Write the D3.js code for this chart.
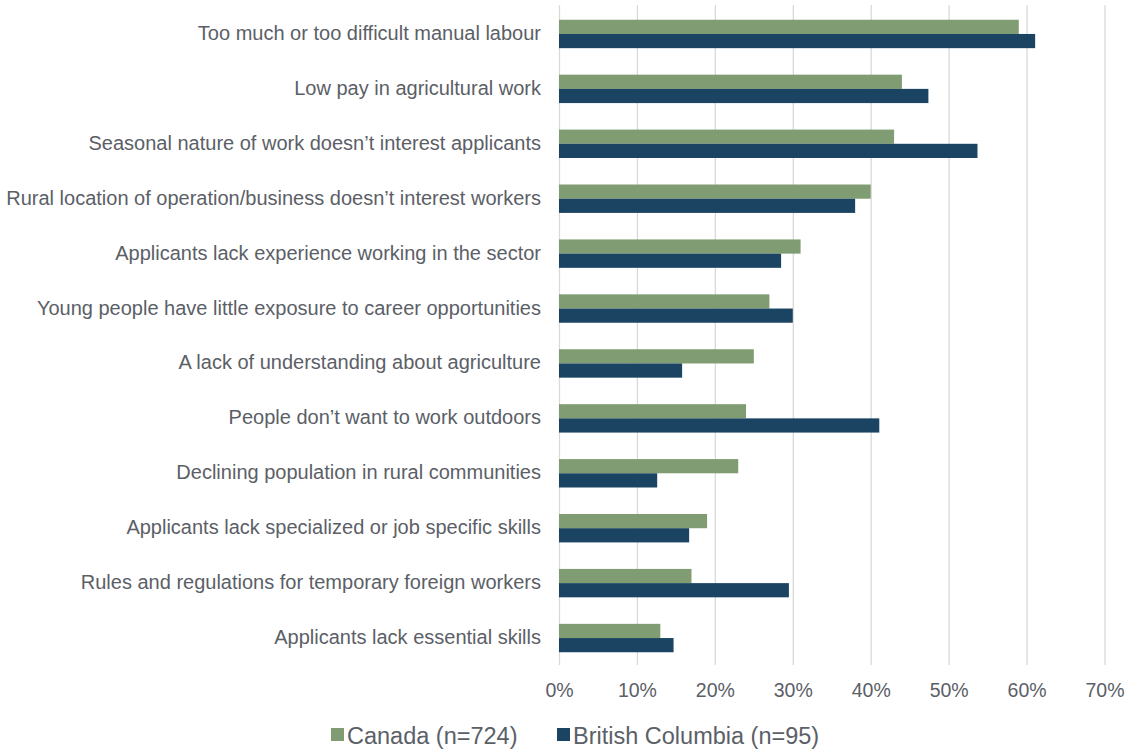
<!DOCTYPE html>
<html><head><meta charset="utf-8">
<script src="https://cdn.jsdelivr.net/npm/d3@7"></script>
<style>body{margin:0;background:#fff;} svg{display:block;} text{font-family:"Liberation Sans",Arial,sans-serif;}</style>
</head><body>
<svg id="c" width="1129" height="750"></svg>
<script>
const categories = [
  "Too much or too difficult manual labour",
  "Low pay in agricultural work",
  "Seasonal nature of work doesn\u2019t interest applicants",
  "Rural location of operation/business doesn\u2019t interest workers",
  "Applicants lack experience working in the sector",
  "Young people have little exposure to career opportunities",
  "A lack of understanding about agriculture",
  "People don\u2019t want to work outdoors",
  "Declining population in rural communities",
  "Applicants lack specialized or job specific skills",
  "Rules and regulations for temporary foreign workers",
  "Applicants lack essential skills"
];
const canada = [59, 44, 43, 40, 31, 27, 25, 24, 23, 19, 17, 13];
const bc = [61.1, 47.4, 53.7, 38, 28.5, 30, 15.8, 41.1, 12.6, 16.7, 29.5, 14.7];
const seriesNames = ["Canada (n=724)", "British Columbia (n=95)"];
const seriesColors = ["#7f9c72", "#1b4462"];
const xTicks = [0, 10, 20, 30, 40, 50, 60, 70];

const textColor = "#5b6067";
const svg = d3.select("#c");
const x = d3.scaleLinear().domain([0, 70]).range([559, 1104.5]);
const y = d3.scaleBand().domain(categories).range([6.5, 665.5]).paddingInner(0).paddingOuter(0);
const barH = 14.2;

// grid
svg.append("g").selectAll("line").data(xTicks).join("line")
  .attr("x1", d => x(d) + 0.5).attr("x2", d => x(d) + 0.5)
  .attr("y1", 5).attr("y2", 665)
  .attr("stroke", "#d9d9d9").attr("stroke-width", 1.3);

// bars
const series = [canada, bc];
series.forEach((vals, si) => {
  svg.append("g").selectAll("rect").data(vals).join("rect")
    .attr("x", x(0))
    .attr("y", (d, i) => y(categories[i]) + y.bandwidth() / 2 - barH + si * barH)
    .attr("width", d => x(d) - x(0))
    .attr("height", barH)
    .attr("fill", seriesColors[si]);
});

// category labels
svg.append("g").selectAll("text").data(categories).join("text")
  .attr("x", 541).attr("y", d => y(d) + y.bandwidth() / 2 - 1)
  .attr("text-anchor", "end").attr("dominant-baseline", "central")
  .attr("font-size", 20).attr("fill", textColor)
  .text(d => d);

// x axis labels
const xAxis = d3.axisBottom(x).tickValues(xTicks).tickFormat(d => d + "%").tickSize(0).tickPadding(0);
const gx = svg.append("g").attr("transform", "translate(0,683)").call(xAxis);
gx.select(".domain").remove();
gx.selectAll("text").attr("font-size", 19.5).attr("fill", textColor)
  .attr("font-family", "'Liberation Sans',Arial,sans-serif").attr("dy", "0.71em");

// legend
const legendX = [331, 557];
const lg = svg.append("g");
seriesNames.forEach((n, i) => {
  lg.append("rect").attr("x", legendX[i]).attr("y", 728).attr("width", 13).attr("height", 13).attr("fill", seriesColors[i]);
  lg.append("text").attr("x", legendX[i] + 16).attr("y", 736).attr("dominant-baseline", "central")
    .attr("font-size", 23.5).attr("fill", textColor).text(n);
});
</script>
</body></html>
